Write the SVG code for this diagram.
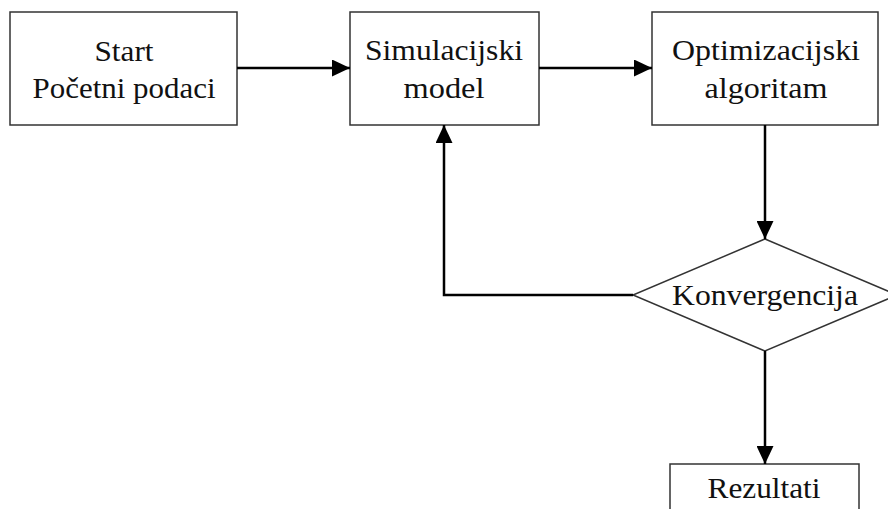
<svg xmlns="http://www.w3.org/2000/svg" width="888" height="509" viewBox="0 0 888 509">
<defs>
<marker id="arr" viewBox="0 0 18 17" refX="18" refY="8.5" markerWidth="18" markerHeight="17" markerUnits="userSpaceOnUse" orient="auto">
<path d="M0,0 L18,8.5 L0,17 Z" fill="#000"/>
</marker>
<style>
.box{fill:#fff;stroke:#333;stroke-width:1.5}
.t{font-family:"Liberation Serif","Times New Roman",serif;font-size:29px;fill:#111;text-anchor:middle}
.c{fill:none;stroke:#000;stroke-width:2.5}
</style>
</defs>
<rect width="888" height="509" fill="#fff"/>
<g id="start">
<rect class="box" x="10" y="12" width="227" height="113"/>
<text class="t" x="124" y="61" textLength="59" lengthAdjust="spacingAndGlyphs">Start</text>
<text class="t" x="124" y="98" textLength="183" lengthAdjust="spacingAndGlyphs">Početni podaci</text>
</g>
<g id="sim">
<rect class="box" x="350" y="12" width="189" height="113"/>
<text class="t" x="444" y="60" textLength="158" lengthAdjust="spacingAndGlyphs">Simulacijski</text>
<text class="t" x="444" y="98" textLength="81" lengthAdjust="spacingAndGlyphs">model</text>
</g>
<g id="opt">
<rect class="box" x="652" y="12" width="226" height="113"/>
<text class="t" x="766" y="60" textLength="188" lengthAdjust="spacingAndGlyphs">Optimizacijski</text>
<text class="t" x="766" y="98" textLength="123" lengthAdjust="spacingAndGlyphs">algoritam</text>
</g>
<g id="conv">
<polygon class="box" points="765,239 897,295 765,351 633,295"/>
<text class="t" x="765" y="305" textLength="186" lengthAdjust="spacingAndGlyphs">Konvergencija</text>
</g>
<g id="rez">
<rect class="box" x="670" y="464" width="189" height="60"/>
<text class="t" x="764" y="498" textLength="113" lengthAdjust="spacingAndGlyphs">Rezultati</text>
</g>
<g id="connectors">
<line class="c" x1="237" y1="68" x2="350" y2="68" marker-end="url(#arr)"/>
<line class="c" x1="539" y1="68" x2="652" y2="68" marker-end="url(#arr)"/>
<line class="c" x1="765" y1="125" x2="765" y2="239" marker-end="url(#arr)"/>
<polyline class="c" points="633,295 444,295 444,125" marker-end="url(#arr)"/>
<line class="c" x1="765" y1="351" x2="765" y2="464" marker-end="url(#arr)"/>
</g>
</svg>
